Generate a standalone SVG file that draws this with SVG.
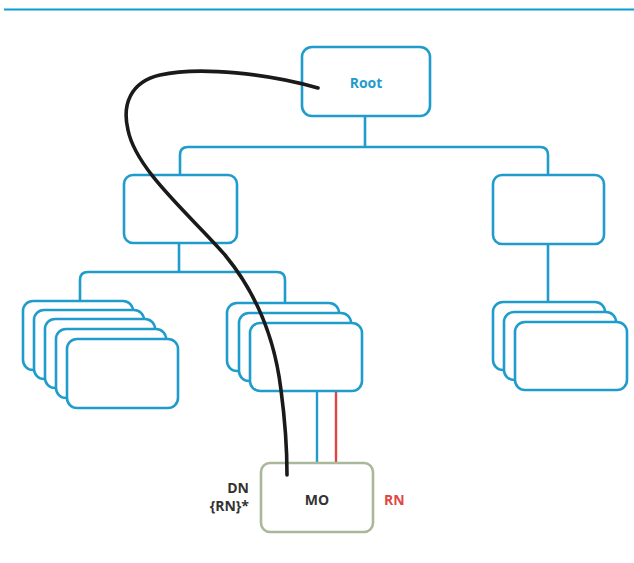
<svg xmlns="http://www.w3.org/2000/svg" width="634" height="563" viewBox="0 0 634 563">
  <style>
    .box { fill: #ffffff; stroke: #1f9ccb; stroke-width: 2.6; }
    .wire { fill: none; stroke: #1f9ccb; stroke-width: 2.6; stroke-linejoin: round; }
    .lbl { font-family: "Open Sans", "Liberation Sans", sans-serif; font-weight: 700; font-size: 14px; }
  </style>

  <!-- header rule -->
  <line x1="4" y1="9.5" x2="634" y2="9.5" stroke="#0a9fd2" stroke-width="2.2"/>

  <!-- tree links -->
  <g id="connectors">
    <path class="wire" d="M365,116 V147"/>
    <path class="wire" d="M180,175 V155 Q180,147 188,147 H540 Q548,147 548,155 V175"/>
    <path class="wire" d="M179,243 V272"/>
    <path class="wire" d="M80,301 V280 Q80,272 88,272 H277 Q285,272 285,280 V303"/>
    <path class="wire" d="M548,244 V302"/>
    <line x1="317" y1="391" x2="317" y2="463" stroke="#1f9ccb" stroke-width="2.4"/>
    <line x1="336" y1="391" x2="336" y2="463" stroke="#e0463f" stroke-width="2.4"/>
  </g>

  <g id="root">
    <rect class="box" x="302" y="47" width="128" height="69" rx="10"/>
    <text class="lbl" x="366" y="88" text-anchor="middle" fill="#1f9ccb">Root</text>
  </g>

  <g id="branch-left">
    <rect class="box" x="124" y="175" width="113" height="68" rx="9"/>
  </g>
  <g id="branch-right">
    <rect class="box" x="493" y="175" width="111" height="69" rx="9"/>
  </g>

  <g id="leaves-left">
    <rect class="box" x="23" y="301" width="110" height="69" rx="10"/>
    <rect class="box" x="34" y="310" width="110" height="69" rx="10"/>
    <rect class="box" x="45" y="319" width="110" height="69" rx="10"/>
    <rect class="box" x="56" y="329" width="110" height="69" rx="10"/>
    <rect class="box" x="67" y="339" width="111" height="69" rx="10"/>
  </g>

  <g id="leaves-middle">
    <rect class="box" x="227" y="303" width="112" height="68" rx="10"/>
    <rect class="box" x="239" y="313" width="112" height="68" rx="10"/>
    <rect class="box" x="250" y="323" width="112" height="68" rx="10"/>
  </g>

  <g id="leaves-right">
    <rect class="box" x="493" y="302" width="112" height="68" rx="10"/>
    <rect class="box" x="504" y="312" width="112" height="68" rx="10"/>
    <rect class="box" x="515" y="322" width="112" height="68" rx="10"/>
  </g>

  <g id="mo">
    <rect x="261" y="463" width="112" height="69" rx="9" fill="#ffffff" stroke="#a9b89b" stroke-width="2.6"/>
    <text class="lbl" x="317" y="505" text-anchor="middle" fill="#333333">MO</text>
    <text class="lbl" x="249" y="493" text-anchor="end" fill="#333333">DN</text>
    <text class="lbl" x="249" y="511" text-anchor="end" fill="#333333">{RN}*</text>
    <text class="lbl" x="384" y="505" fill="#df4740">RN</text>
  </g>

  <!-- distinguished-name path from root down to the object -->
  <g id="dn-path">
    <path d="M318,88 C270,74 200,66 160,75 C130,82 122,105 128,130 C136,170 190,215 225,255 C258,295 275,340 281,390 C285,420 287,450 287,475" fill="none" stroke="#1a1a1a" stroke-width="3.6" stroke-linecap="round"/>
  </g>
</svg>
